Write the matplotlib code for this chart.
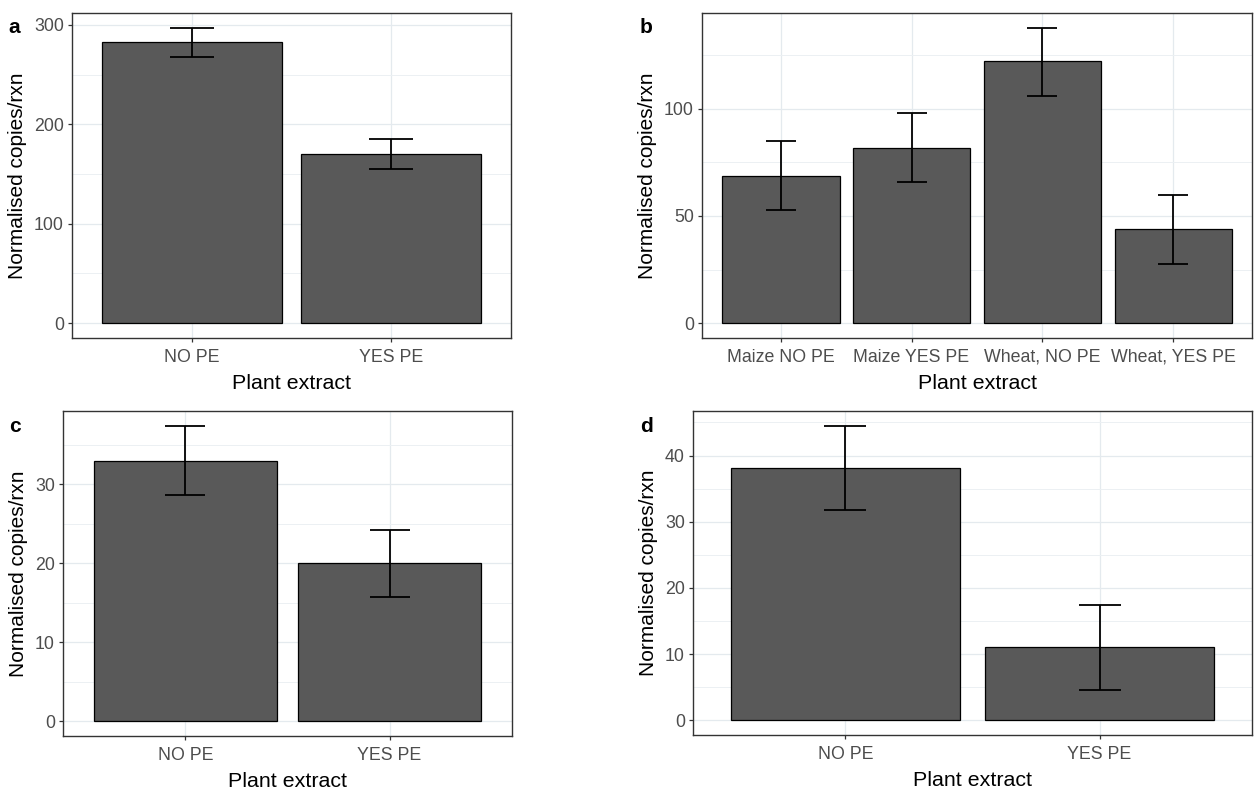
import matplotlib
matplotlib.use("Agg")
import matplotlib.pyplot as plt
from matplotlib import font_manager
from matplotlib.ticker import MultipleLocator

# fonts: reference text is Arial squeezed horizontally, so use a narrow face when present
names = {f.name for f in font_manager.fontManager.ttflist}
narrow = "Liberation Sans Narrow" if "Liberation Sans Narrow" in names else "Liberation Sans"
regular = "Liberation Sans"
plt.rcParams["font.family"] = [regular, "DejaVu Sans"]

# data
cats_a = ["NO PE", "YES PE"]
mean_a = [283, 170]
lo_a = [268, 155]
hi_a = [297, 185]

cats_b = ["Maize NO PE", "Maize YES PE", "Wheat, NO PE", "Wheat, YES PE"]
mean_b = [68.7, 81.7, 122, 43.7]
lo_b = [52.6, 65.7, 106, 27.8]
hi_b = [85, 98, 137.7, 59.6]

cats_c = ["NO PE", "YES PE"]
mean_c = [33.0, 20.0]
lo_c = [28.7, 15.7]
hi_c = [37.4, 24.2]

cats_d = ["NO PE", "YES PE"]
mean_d = [38.1, 11.0]
lo_d = [31.7, 4.6]
hi_d = [44.5, 17.4]

W, H = 1254, 792
fig = plt.figure(figsize=(W / 100, H / 100), dpi=100)
fig.patch.set_facecolor("white")

narrow_factor = 1.0 if narrow != regular else 0.82
tick_fs = 10.5 / narrow_factor
xlab_fs = 12.6 / narrow_factor
ylab_fs = 15.0


def panel(rect, letter, letter_xy, cats, mean, lo, hi, major, minor, cap):
    l, t, r, b = rect
    ax = fig.add_axes([l / W, 1 - b / H, (r - l) / W, (b - t) / H])
    x = list(range(len(cats)))
    ax.bar(x, mean, width=0.9, color="#595959", edgecolor="black", linewidth=0.9, zorder=3)
    yerr = [[m - a for m, a in zip(mean, lo)], [c - m for m, c in zip(mean, hi)]]
    ax.errorbar(x, mean, yerr=yerr, fmt="none", ecolor="black", elinewidth=1.3,
                capsize=cap, capthick=1.3, zorder=4)
    top = max(hi)
    ax.set_ylim(-0.05 * top, top * 1.05)
    ax.set_xlim(-0.6, len(cats) - 0.4)
    ax.set_xticks(x)
    ax.set_xticklabels(cats, fontsize=tick_fs, color="#4D4D4D", family=[narrow, "DejaVu Sans"])
    ax.yaxis.set_major_locator(MultipleLocator(major))
    ax.yaxis.set_minor_locator(MultipleLocator(minor))
    for lab in ax.get_yticklabels():
        lab.set_fontsize(tick_fs)
        lab.set_color("#4D4D4D")
        lab.set_family([narrow, "DejaVu Sans"])
    ax.tick_params(axis="both", which="major", length=2.9, width=0.9, color="#333333", pad=3)
    ax.tick_params(axis="x", which="major", pad=5)
    ax.tick_params(axis="y", which="minor", length=0)
    ax.grid(True, which="major", color="#E4EAEE", linewidth=0.9, zorder=0)
    ax.grid(True, which="minor", axis="y", color="#ECF0F3", linewidth=0.7, zorder=0)
    ax.set_axisbelow(True)
    for s in ax.spines.values():
        s.set_color("#333333")
        s.set_linewidth(1.0)
    ax.set_xlabel("Plant extract", fontsize=xlab_fs, family=[narrow, "DejaVu Sans"], labelpad=6)
    ax.set_ylabel("Normalised copies/rxn", fontsize=ylab_fs, labelpad=5)
    fig.text(letter_xy[0] / W, 1 - letter_xy[1] / H, letter, fontsize=15, fontweight="bold",
             ha="left", va="baseline")
    return ax


panel((72, 13, 511, 338), "a", (8, 33), cats_a, mean_a, lo_a, hi_a, 100, 50, 15.8)
panel((702, 13, 1252, 338), "b", (640, 33), cats_b, mean_b, lo_b, hi_b, 50, 25, 10.8)
panel((63, 411, 512, 736), "c", (9, 432), cats_c, mean_c, lo_c, hi_c, 10, 5, 14.4)
panel((693, 411, 1252, 735), "d", (640, 432), cats_d, mean_d, lo_d, hi_d, 10, 5, 14.8)

fig.savefig("out.png", dpi=100)
